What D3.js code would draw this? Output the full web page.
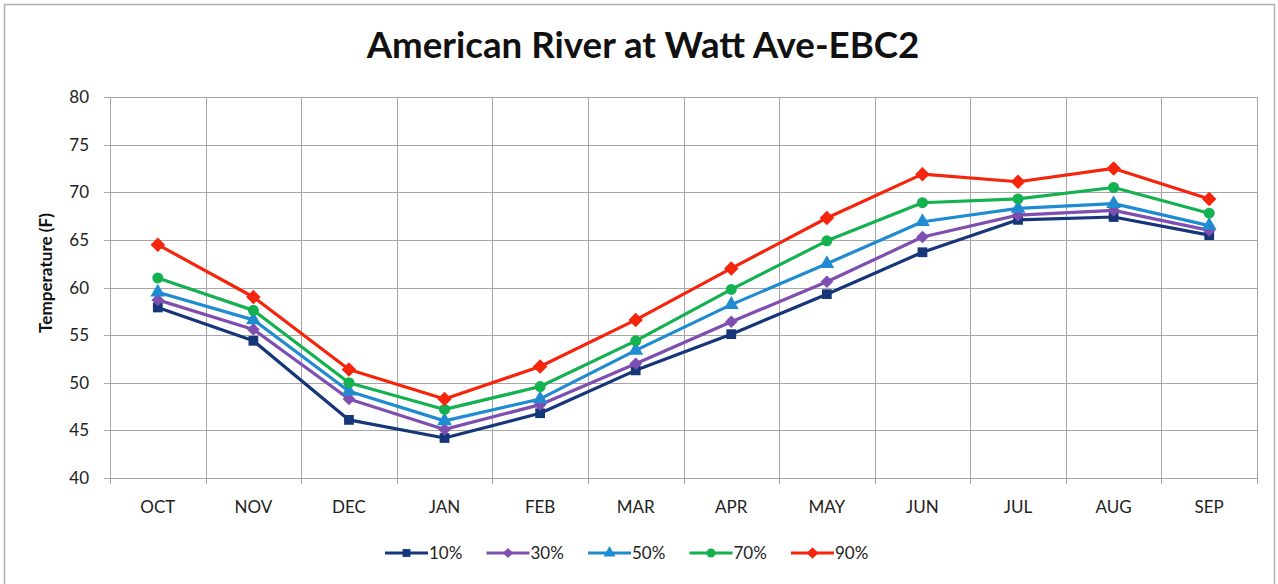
<!DOCTYPE html>
<html><head><meta charset="utf-8">
<script src="https://cdn.jsdelivr.net/npm/d3@7"></script>
<style>body{margin:0;background:#fff;}svg{display:block;font-family:Lato,"Open Sans",sans-serif;}</style>
</head><body>
<script>
const months = ["OCT","NOV","DEC","JAN","FEB","MAR","APR","MAY","JUN","JUL","AUG","SEP"];
const seriesNames = ["10%","30%","50%","70%","90%"];
const p10 = [57.9,54.4,46.1,44.2,46.8,51.3,55.1,59.3,63.7,67.1,67.4,65.5];
const p30 = [58.7,55.6,48.3,45.1,47.7,52.0,56.4,60.6,65.3,67.6,68.1,66.0];
const p50 = [59.5,56.6,49.1,46.0,48.3,53.4,58.2,62.5,66.9,68.3,68.8,66.5];
const p70 = [61.0,57.6,50.0,47.2,49.6,54.4,59.8,64.9,68.9,69.3,70.5,67.8];
const p90 = [64.5,59.0,51.4,48.3,51.7,56.6,62.0,67.3,71.9,71.1,72.5,69.3];
const yTicks = [40,45,50,55,60,65,70,75,80];
const colors = ["#16367a","#7e4fb0","#1f8bd1","#13b150","#f5250c"];
const shapes = [d3.symbolSquare, d3.symbolSquare, d3.symbolTriangle, d3.symbolCircle, d3.symbolSquare];
const rotations = [0, 45, 0, 0, 45];
const markerSizes = [95, 80, 95, 95, 105];
const allSeries = [p10,p30,p50,p70,p90];

const W = 1278, H = 584;
const svg = d3.select("body").append("svg").attr("width", W).attr("height", H);
svg.append("rect").attr("x",4.5).attr("y",4.5).attr("width",W-8).attr("height",H+10)
  .attr("fill","#fff").attr("stroke","#b0b0b0").attr("stroke-width",1.5);

const L = 110, R = 1257, T = 97, B = 478;
const x = d3.scaleBand().domain(months).range([L, R]).paddingInner(0).paddingOuter(0);
const y = d3.scaleLinear().domain([40, 80]).range([B, T]);
const g = svg.append("g");

g.selectAll("line.hg").data(yTicks).join("line")
  .attr("x1", L - 6).attr("x2", R).attr("y1", d => Math.round(y(d)) + 0.5).attr("y2", d => Math.round(y(d)) + 0.5)
  .attr("stroke", "#a6a6a6").attr("stroke-width", 1);
const xb = months.map(m => x(m)).concat([R]);
g.selectAll("line.vg").data(xb).join("line")
  .attr("x1", d => Math.round(d) + 0.5).attr("x2", d => Math.round(d) + 0.5)
  .attr("y1", T).attr("y2", B + 6)
  .attr("stroke", "#a6a6a6").attr("stroke-width", 1);

g.selectAll("text.yt").data(yTicks).join("text")
  .attr("x", 89).attr("y", d => y(d)).attr("dy", "0.36em").attr("text-anchor", "end")
  .attr("font-size", 17).attr("fill", "#222").text(d => d);
g.selectAll("text.xt").data(months).join("text")
  .attr("x", d => x(d) + x.bandwidth()/2).attr("y", 507).attr("dy", "0.36em").attr("text-anchor", "middle")
  .attr("font-size", 17).attr("fill", "#222").text(d => d);

const yl = svg.append("text").attr("transform", "translate(52,273) rotate(-90)").attr("text-anchor","middle")
  .attr("font-size", 16).attr("font-weight", "bold").attr("fill","#111").text("Temperature (F)");
const ylw = yl.node().getComputedTextLength();
yl.attr("font-size", 16 * 120 / ylw);

const title = svg.append("text").attr("x", 643).attr("y", 58).attr("text-anchor","middle")
  .attr("font-size", 30).attr("font-weight","bold").attr("fill","#111").text("American River at Watt Ave-EBC2");
const tw = title.node().getComputedTextLength();
title.attr("font-size", 30 * 553 / tw);

const line = d3.line().x((d,i) => x(months[i]) + x.bandwidth()/2).y(d => y(d));
allSeries.forEach((s, k) => {
  const sg = g.append("g");
  sg.append("path").attr("d", line(s)).attr("fill","none").attr("stroke", colors[k]).attr("stroke-width", 3.2)
    .attr("stroke-linejoin","round");
  sg.selectAll("path.m").data(s).join("path")
    .attr("transform", (d,i) => `translate(${x(months[i]) + x.bandwidth()/2},${y(d)}) rotate(${rotations[k]})`)
    .attr("d", d3.symbol().type(shapes[k]).size(markerSizes[k]))
    .attr("fill", colors[k]);
});

const lx0 = 385, ly = 553, step = 101.5;
seriesNames.forEach((n, k) => {
  const lg = svg.append("g").attr("transform", `translate(${lx0 + k*step},${ly})`);
  lg.append("line").attr("x1",0).attr("x2",43).attr("y1",0).attr("y2",0).attr("stroke",colors[k]).attr("stroke-width",3.2);
  lg.append("path").attr("transform",`translate(21.5,0) rotate(${rotations[k]})`).attr("d", d3.symbol().type(shapes[k]).size(markerSizes[k]*0.65)).attr("fill",colors[k]);
  lg.append("text").attr("x",44).attr("y",0).attr("dy","0.36em").attr("font-size",17).attr("fill","#222").text(n);
});
</script>
</body></html>
